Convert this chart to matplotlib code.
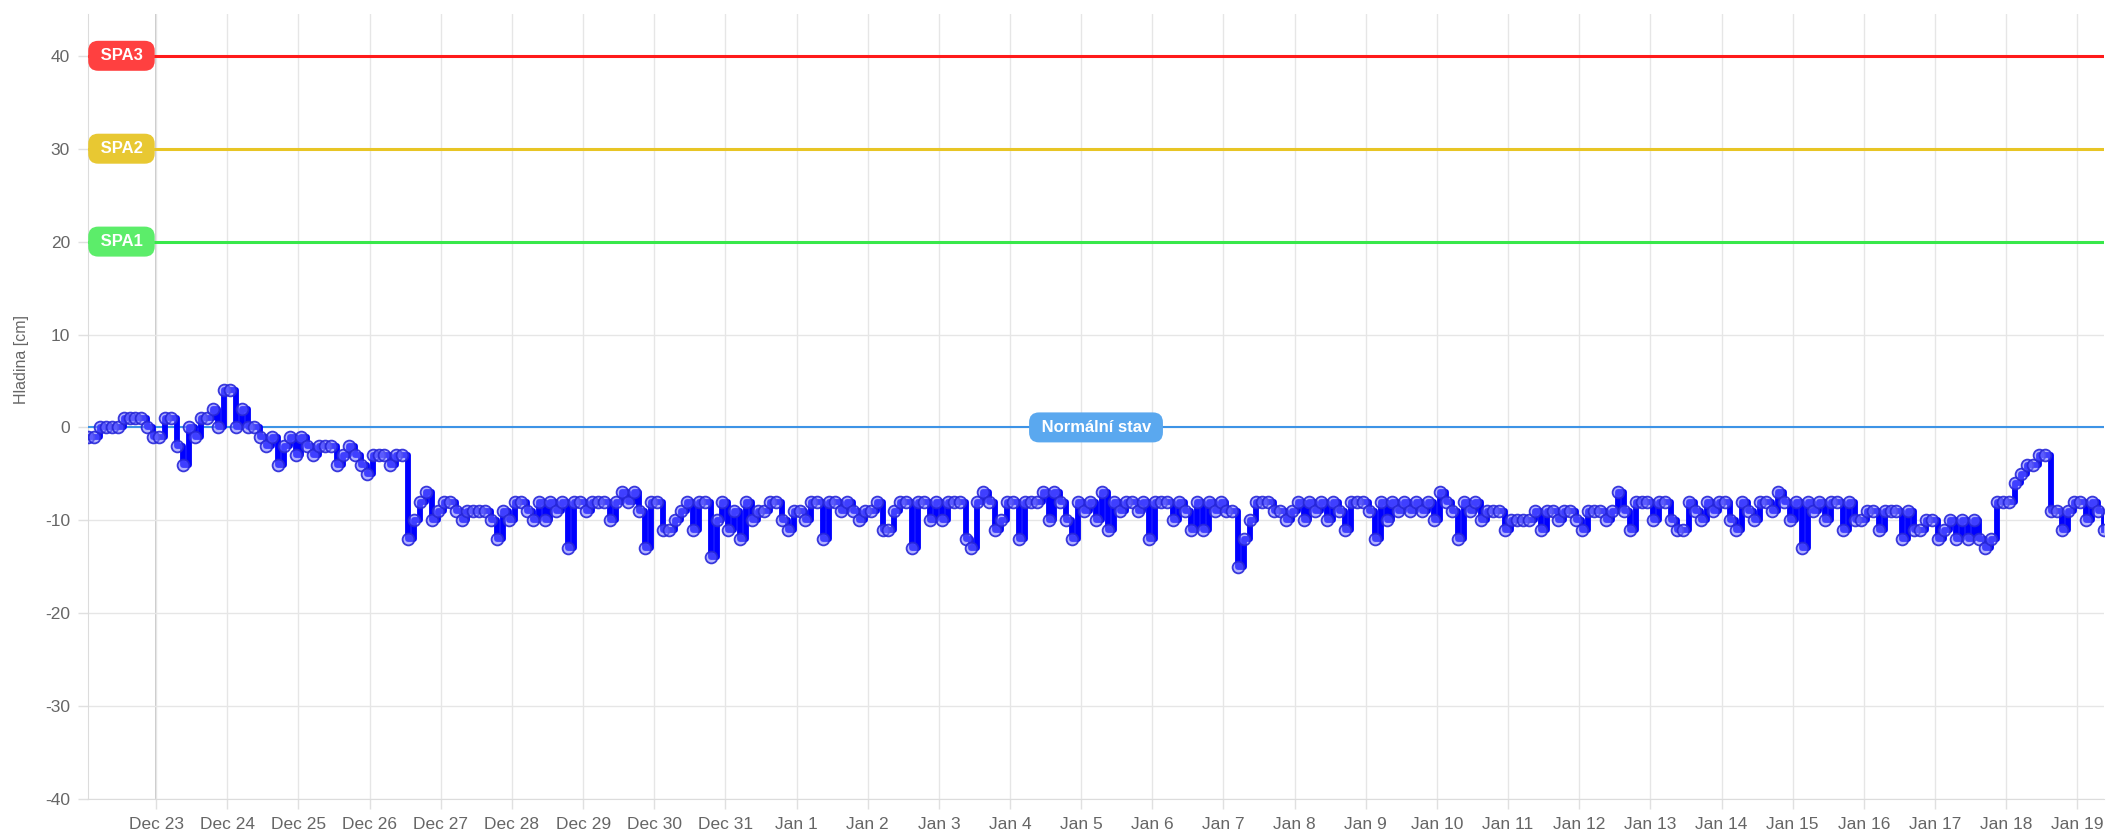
import datetime as dt
import numpy as np
import matplotlib
matplotlib.use("Agg")
import matplotlib.pyplot as plt
import matplotlib.dates as mdates
import matplotlib.transforms as mtransforms

plt.rcParams['font.family'] = ['Liberation Sans', 'DejaVu Sans']
plt.rcParams['axes.unicode_minus'] = False

# water level [cm], one reading every 2 hours (01:00, 03:00, ... 23:00)
dec22 = [-1, -1, 0, 0, 0, 0, 1, 1, 1, 1, 0, -1]
dec23 = [-1, 1, 1, -2, -4, 0, -1, 1, 1, 2, 0, 4]
dec24 = [4, 0, 2, 0, 0, -1, -2, -1, -4, -2, -1, -3]
dec25 = [-1, -2, -3, -2, -2, -2, -4, -3, -2, -3, -4, -5]
dec26 = [-3, -3, -3, -4, -3, -3, -12, -10, -8, -7, -10, -9]
dec27 = [-8, -8, -9, -10, -9, -9, -9, -9, -10, -12, -9, -10]
dec28 = [-8, -8, -9, -10, -8, -10, -8, -9, -8, -13, -8, -8]
dec29 = [-9, -8, -8, -8, -10, -8, -7, -8, -7, -9, -13, -8]
dec30 = [-8, -11, -11, -10, -9, -8, -11, -8, -8, -14, -10, -8]
dec31 = [-11, -9, -12, -8, -10, -9, -9, -8, -8, -10, -11, -9]
jan01 = [-9, -10, -8, -8, -12, -8, -8, -9, -8, -9, -10, -9]
jan02 = [-9, -8, -11, -11, -9, -8, -8, -13, -8, -8, -10, -8]
jan03 = [-10, -8, -8, -8, -12, -13, -8, -7, -8, -11, -10, -8]
jan04 = [-8, -12, -8, -8, -8, -7, -10, -7, -8, -10, -12, -8]
jan05 = [-9, -8, -10, -7, -11, -8, -9, -8, -8, -9, -8, -12]
jan06 = [-8, -8, -8, -10, -8, -9, -11, -8, -11, -8, -9, -8]
jan07 = [-9, -9, -15, -12, -10, -8, -8, -8, -9, -9, -10, -9]
jan08 = [-8, -10, -8, -9, -8, -10, -8, -9, -11, -8, -8, -8]
jan09 = [-9, -12, -8, -10, -8, -9, -8, -9, -8, -9, -8, -10]
jan10 = [-7, -8, -9, -12, -8, -9, -8, -10, -9, -9, -9, -11]
jan11 = [-10, -10, -10, -10, -9, -11, -9, -9, -10, -9, -9, -10]
jan12 = [-11, -9, -9, -9, -10, -9, -7, -9, -11, -8, -8, -8]
jan13 = [-10, -8, -8, -10, -11, -11, -8, -9, -10, -8, -9, -8]
jan14 = [-8, -10, -11, -8, -9, -10, -8, -8, -9, -7, -8, -10]
jan15 = [-8, -13, -8, -9, -8, -10, -8, -8, -11, -8, -10, -10]
jan16 = [-9, -9, -11, -9, -9, -9, -12, -9, -11, -11, -10, -10]
jan17 = [-12, -11, -10, -12, -10, -12, -10, -12, -13, -12, -8, -8]
jan18 = [-8, -6, -5, -4, -4, -3, -3, -9, -9, -11, -9, -8]
jan19 = [-8, -10, -8, -9, -11]

days = [dec22, dec23, dec24, dec25, dec26, dec27, dec28, dec29, dec30, dec31,
        jan01, jan02, jan03, jan04, jan05, jan06, jan07, jan08, jan09, jan10,
        jan11, jan12, jan13, jan14, jan15, jan16, jan17, jan18, jan19]

levels = []
times = []
start = dt.datetime(2023, 12, 22, 1, 0)
for d, vals in enumerate(days):
    for k, v in enumerate(vals):
        times.append(start + dt.timedelta(days=d, hours=2 * k))
        levels.append(v)

thresholds = [40, 30, 20]
threshold_names = ['SPA3', 'SPA2', 'SPA1']
line_colors = ['#ff1a1a', '#e8c525', '#38e84a']
box_colors = ['#ff4040', '#e8c832', '#5ced6a']
normal_level = 0
normal_name = 'Normální stav'

W, H = 2109, 832
fig = plt.figure(figsize=(W / 100, H / 100), dpi=100)
ax = fig.add_axes([88 / W, 1 - 799 / H, (2104 - 88) / W, (799 - 14) / H])

ax.set_xlim(times[0], times[-1])
ax.set_ylim(-40, 44.5)
ax.set_yticks(np.arange(-40, 41, 10))

ax.xaxis.set_major_locator(mdates.DayLocator())
ax.xaxis.set_major_formatter(mdates.DateFormatter('%b %-d'))

ax.grid(True, color='#e6e6e6', linewidth=1.0, zorder=0)
ax.axvline(dt.datetime(2023, 12, 23), color='#c4c4c4', linewidth=1.3, zorder=1)
for s in ['top', 'right']:
    ax.spines[s].set_visible(False)
for s in ['left', 'bottom']:
    ax.spines[s].set_color('#dcdcdc')
ax.tick_params(axis='both', colors='#e0e0e0', labelcolor='#666666',
               labelsize=12.5, length=7, width=1.0, pad=6)

fig.text(22 / W, 1 - 360 / H, 'Hladina [cm]', rotation=90, ha='center',
         va='center', fontsize=11.5, color='#666666')

# threshold lines with labels
lbl_tr = mtransforms.blended_transform_factory(ax.transAxes, ax.transData)
for y, name, lc, bc in zip(thresholds, threshold_names, line_colors, box_colors):
    ax.axhline(y, color=lc, linewidth=2.2, zorder=3)
    ax.text(0.0166, y, ' ' + name + ' ', transform=lbl_tr, ha='center',
            va='center', fontsize=12, fontweight='bold', color='white',
            zorder=6,
            bbox=dict(boxstyle='round,pad=0.45,rounding_size=0.6', fc=bc,
                      ec='none'))

ax.axhline(normal_level, color='#3d93e6', linewidth=1.5, zorder=3)
ax.text(0.5, normal_level, ' ' + normal_name + ' ', transform=lbl_tr,
        ha='center', va='center', fontsize=12, fontweight='bold',
        color='white', zorder=6,
        bbox=dict(boxstyle='round,pad=0.45,rounding_size=0.6', fc='#5aa8ef',
                  ec='none'))

ax.plot(times, levels, drawstyle='steps-post', color='#0000ff',
        linewidth=4.2, zorder=4)
ax.plot(times, levels, linestyle='none', marker='o', markersize=8.5,
        markerfacecolor=(0.45, 0.45, 1.0, 0.55),
        markeredgecolor=(0.15, 0.15, 0.85, 0.9), markeredgewidth=1.3,
        zorder=5)

fig.savefig('out.png', dpi=100)
